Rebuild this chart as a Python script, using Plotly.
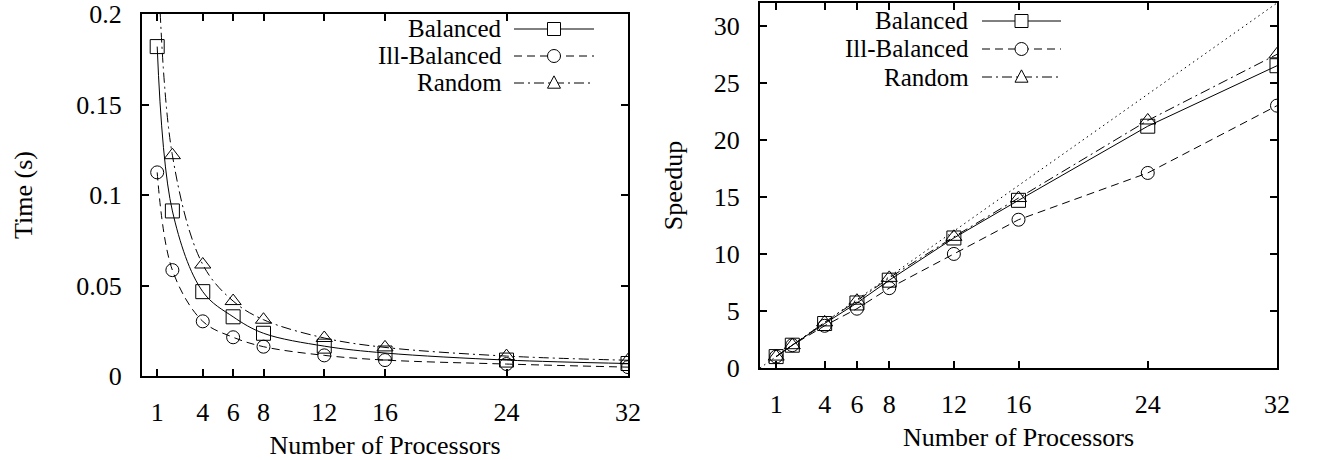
import plotly.graph_objects as go

# ---------------- data ----------------
processors = [1, 2, 4, 6, 8, 12, 16, 24, 32]
tick_procs = [1, 4, 6, 8, 12, 16, 24, 32]
series_names = ["Balanced", "Ill-Balanced", "Random"]

time_balanced = [0.182, 0.0912, 0.0466, 0.0327, 0.0236, 0.0165, 0.0127, 0.0088, 0.0069]
time_ill = [0.1125, 0.0585, 0.0302, 0.0214, 0.0162, 0.0114, 0.0088, 0.0066, 0.0049]
time_random = [0.245, 0.1220, 0.0616, 0.0414, 0.0311, 0.0210, 0.0158, 0.0110, 0.0087]

speedup_balanced = [1.0, 2.0, 3.9, 5.7, 7.7, 11.4, 14.7, 21.2, 26.5]
speedup_ill = [1.0, 2.0, 3.7, 5.2, 7.0, 10.0, 13.0, 17.1, 23.0]
speedup_random = [1.0, 2.0, 4.0, 5.9, 7.9, 11.5, 14.9, 21.7, 27.5]

ideal_procs = [0, 32]
ideal_speedup = [0, 32]

time_ticks = [0, 0.05, 0.1, 0.15, 0.2]
speedup_ticks = [0, 5, 10, 15, 20, 25, 30]

# ---------------- style ----------------
W, H = 1319, 460
FONT = "Liberation Serif"
FS = 26
KEY_FS = 25
styles = [
    dict(symbol="square-open", dash="solid", size=14),
    dict(symbol="circle-open", dash="8px,5px", size=13),
    dict(symbol="triangle-up-open", dash="10px,4px,2px,4px", size=14),
]


def px_x(x):
    return x / W


def px_y(y):
    return 1 - y / H


fig = go.Figure()

time_series = [time_balanced, time_ill, time_random]
speed_series = [speedup_balanced, speedup_ill, speedup_random]

for name, ys, st in zip(series_names, time_series, styles):
    fig.add_trace(go.Scatter(
        x=processors, y=ys, name=name, mode="lines+markers",
        line=dict(color="black", width=1, dash=st["dash"], shape="spline", smoothing=1.0),
        marker=dict(symbol=st["symbol"], size=st["size"], color="black",
                    line=dict(width=1, color="black")),
        xaxis="x", yaxis="y", showlegend=False,
    ))

fig.add_trace(go.Scatter(
    x=ideal_procs, y=ideal_speedup, mode="lines", name="Ideal",
    line=dict(color="black", width=1, dash="1.5px,3.5px"),
    xaxis="x2", yaxis="y2", showlegend=False,
))

for name, ys, st in zip(series_names, speed_series, styles):
    fig.add_trace(go.Scatter(
        x=processors, y=ys, name=name, mode="lines+markers",
        line=dict(color="black", width=1, dash=st["dash"]),
        marker=dict(symbol=st["symbol"], size=st["size"], color="black",
                    line=dict(width=1, color="black")),
        xaxis="x2", yaxis="y2", showlegend=False,
    ))

axis_common = dict(
    showline=True, linewidth=2, linecolor="black", mirror="ticks",
    ticks="inside", ticklen=7, tickwidth=1.5, tickcolor="black",
    showgrid=False, zeroline=False, ticklabeloverflow="allow", automargin=False,
    tickfont=dict(family=FONT, size=FS, color="black"),
    title_font=dict(family=FONT, size=FS, color="black"),
)

fig.update_layout(
    width=W, height=H,
    margin=dict(l=0, r=0, t=0, b=0, autoexpand=False),
    paper_bgcolor="white", plot_bgcolor="white",
    font=dict(family=FONT, size=FS, color="black"),
    xaxis=dict(axis_common, domain=[px_x(142), px_x(628)], range=[0, 32], anchor="y",
               tickvals=tick_procs, ticklabelstandoff=12,
               title=dict(text="Number of Processors", standoff=10)),
    yaxis=dict(axis_common, domain=[px_y(376), px_y(14)], range=[0, 0.2], anchor="x",
               tickvals=time_ticks, ticklabelstandoff=13,
               title=dict(text="Time (s)", standoff=36)),
    xaxis2=dict(axis_common, domain=[px_x(760), px_x(1277)], range=[0, 32], anchor="y2",
                tickvals=tick_procs, ticklabelstandoff=12,
                title=dict(text="Number of Processors", standoff=10)),
    yaxis2=dict(axis_common, domain=[px_y(368), px_y(3)], range=[0, 32], anchor="x2",
                tickvals=speedup_ticks, ticklabelstandoff=13,
                title=dict(text="Speedup", standoff=24)),
)

# ---------------- gnuplot-style keys (label left of sample) ----------------
def add_key(text_right, s0, s1, rows):
    for name, st, yrow in zip(series_names, styles, rows):
        fig.add_annotation(
            x=px_x(text_right), y=px_y(yrow), xref="paper", yref="paper",
            text=name, showarrow=False, xanchor="right", yanchor="middle",
            borderpad=0,
            font=dict(family=FONT, size=KEY_FS, color="black"),
        )
        fig.add_shape(type="line", xref="paper", yref="paper",
                      x0=px_x(s0), x1=px_x(s1), y0=px_y(yrow), y1=px_y(yrow),
                      line=dict(color="black", width=1, dash=st["dash"]))
        cx = (s0 + s1) / 2
        r = 6.5
        mk = dict(xref="paper", yref="paper", line=dict(color="black", width=1),
                  fillcolor="white")
        if st["symbol"].startswith("square"):
            fig.add_shape(type="rect", x0=px_x(cx - r), x1=px_x(cx + r),
                          y0=px_y(yrow - r), y1=px_y(yrow + r), **mk)
        elif st["symbol"].startswith("circle"):
            fig.add_shape(type="circle", x0=px_x(cx - r), x1=px_x(cx + r),
                          y0=px_y(yrow - r), y1=px_y(yrow + r), **mk)
        else:
            path = "M {:.5f} {:.5f} L {:.5f} {:.5f} L {:.5f} {:.5f} Z".format(
                px_x(cx - r), px_y(yrow + r * 0.8),
                px_x(cx + r), px_y(yrow + r * 0.8),
                px_x(cx), px_y(yrow - r * 1.1))
            fig.add_shape(type="path", path=path, **mk)


add_key(503, 514, 594, [29, 56, 83])
add_key(970, 982, 1061, [21, 49, 77])

# remove the browser's default 8px body margin so the figure sits at the page origin
fig.write_html("out.html", config={"displayModeBar": False},
               post_script="document.body.style.margin='0';")
